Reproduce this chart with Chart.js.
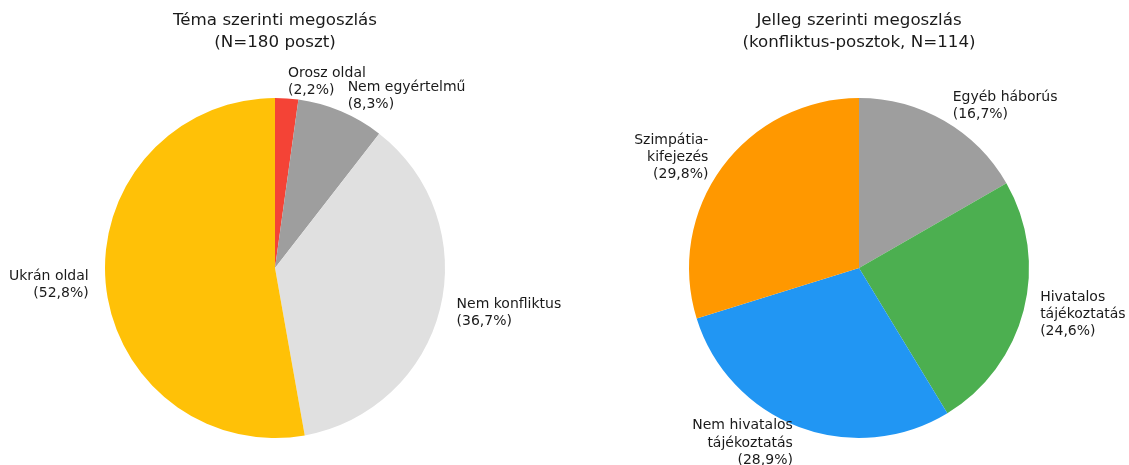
<!DOCTYPE html>
<html>
<head>
<meta charset="utf-8">
<script src="https://cdn.jsdelivr.net/npm/chart.js@4.4.1/dist/chart.umd.min.js"></script>
<style>
  html, body { margin: 0; padding: 0; background: #fff; }
  #wrap { position: relative; width: 1129px; height: 465px; }
  .box { position: absolute; top: 0; height: 465px; }
</style>
</head>
<body>
<div id="wrap">
  <div class="box" style="left:0;width:564px"><canvas id="chart-tema"></canvas></div>
  <div class="box" style="left:564px;width:565px"><canvas id="chart-jelleg"></canvas></div>
</div>
<script>
// --- data ---
const temaLabels = ['Orosz oldal', 'Nem egyértelmű', 'Nem konfliktus', 'Ukrán oldal'];
const temaValues = [2.2, 8.3, 36.7, 52.8];
const temaColors = ['#F44336', '#9E9E9E', '#E0E0E0', '#FFC107'];
const temaTitle = ['Téma szerinti megoszlás', '(N=180 poszt)'];

const jellegLabels = ['Egyéb háborús', 'Hivatalos\ntájékoztatás', 'Nem hivatalos\ntájékoztatás', 'Szimpátia-\nkifejezés'];
const jellegValues = [16.7, 24.6, 28.9, 29.8];
const jellegColors = ['#9E9E9E', '#4CAF50', '#2196F3', '#FF9800'];
const jellegTitle = ['Jelleg szerinti megoszlás', '(konfliktus-posztok, N=114)'];

const FONT = "'DejaVu Sans', sans-serif";
const TEXT = '#1a1a1a';

// labels outside the slices, matplotlib style (1.1 * radius, aligned by side)
const outerLabels = {
    id: 'outerLabels',
    afterDatasetsDraw(chart, args, opts) {
        const ctx = chart.ctx;
        const meta = chart.getDatasetMeta(0);
        const size = 14;
        const lh = size * 1.22;
        ctx.save();
        ctx.font = size + 'px ' + FONT;
        ctx.fillStyle = TEXT;
        ctx.textBaseline = 'middle';
        meta.data.forEach((arc, i) => {
            const mid = (arc.startAngle + arc.endAngle) / 2;
            const r = arc.outerRadius * 1.1;
            const x = arc.x + r * Math.cos(mid);
            const y = arc.y + r * Math.sin(mid);
            const val = chart.data.datasets[0].data[i];
            const lines = chart.data.labels[i].split('\n');
            lines.push('(' + val.toFixed(1).replace('.', ',') + '%)');
            ctx.textAlign = x >= arc.x ? 'left' : 'right';
            const y0 = y - (lines.length - 1) * lh / 2;
            lines.forEach((t, k) => ctx.fillText(t, x, y0 + k * lh));
        });
        // title
        ctx.textAlign = 'center';
        ctx.font = '16.7px ' + FONT;
        opts.title.forEach((t, k) => ctx.fillText(t, opts.cx, 21 + k * 22));
        ctx.restore();
    }
};

function makePie(id, labels, values, colors, title, pad, cx) {
    return new Chart(document.getElementById(id), {
        type: 'pie',
        data: {
            labels,
            datasets: [{
                data: values,
                backgroundColor: colors,
                borderWidth: 0,
            }]
        },
        options: {
            responsive: true,
            maintainAspectRatio: false,
            animation: false,
            layout: { padding: pad },
            plugins: {
                legend: { display: false },
                tooltip: { enabled: false },
                outerLabels: { title, cx }
            }
        },
        plugins: [outerLabels]
    });
}

makePie('chart-tema', temaLabels, temaValues, temaColors, temaTitle,
    { left: 105, right: 119, top: 98, bottom: 27 }, 275);
makePie('chart-jelleg', jellegLabels, jellegValues, jellegColors, jellegTitle,
    { left: 125, right: 100, top: 98, bottom: 27 }, 295);
</script>
</body>
</html>
